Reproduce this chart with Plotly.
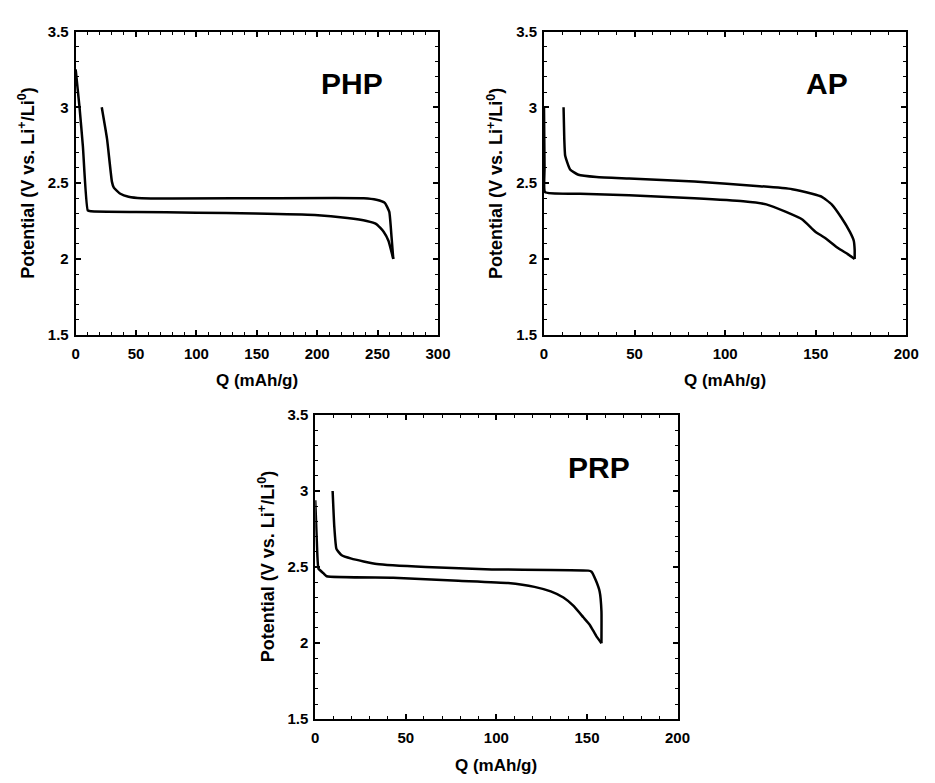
import plotly.graph_objects as go

# ---- data ----
php_dis_q = [0, 3.2, 6, 10, 12.7, 50, 100, 149, 198, 225, 241, 249, 255, 259, 263]
php_dis_v = [3.25, 3.0, 2.74, 2.32, 2.315, 2.31, 2.305, 2.30, 2.29, 2.27, 2.25, 2.23, 2.18, 2.12, 2.0]
php_chg_q = [263, 261.6, 259.7, 256, 249, 238.6, 150, 54.6, 43.8, 37, 31.6, 30, 26, 21.6]
php_chg_v = [2.0, 2.14, 2.31, 2.37, 2.39, 2.40, 2.40, 2.40, 2.41, 2.43, 2.47, 2.51, 2.79, 3.0]

ap_dis_q = [0, 0.3, 0.6, 20, 47, 83, 110, 122.7, 133.6, 142.6, 149.8, 155, 162.5, 167.9, 171.5]
ap_dis_v = [3.0, 2.6, 2.44, 2.43, 2.42, 2.40, 2.38, 2.36, 2.31, 2.26, 2.18, 2.14, 2.07, 2.03, 2.0]
ap_chg_q = [171.5, 171.5, 171, 168.8, 164.3, 158.8, 153.4, 148, 137, 119, 83, 47, 29, 19, 14.4, 11.7, 11.2, 10.8]
ap_chg_v = [2.0, 2.06, 2.12, 2.18, 2.27, 2.36, 2.41, 2.43, 2.46, 2.48, 2.51, 2.53, 2.54, 2.555, 2.59, 2.68, 2.79, 3.0]

prp_dis_q = [0, 0.9, 1.8, 4.5, 6.3, 43, 79, 106.5, 121, 130, 137, 142.6, 148, 151.6, 155, 158]
prp_dis_v = [2.94, 2.66, 2.49, 2.46, 2.44, 2.43, 2.41, 2.395, 2.37, 2.34, 2.30, 2.245, 2.17, 2.12, 2.05, 2.0]
prp_chg_q = [158, 158, 157, 155, 152.5, 150.7, 97.5, 61, 34, 20, 14.4, 11.7, 10.5, 9.6]
prp_chg_v = [2.0, 2.21, 2.34, 2.41, 2.47, 2.477, 2.485, 2.50, 2.52, 2.556, 2.58, 2.62, 2.77, 3.0]

panel_names = ["PHP", "AP", "PRP"]
x_ranges = [[0, 300], [0, 200], [0, 200]]
y_range = [1.5, 3.5]
x_title = "Q (mAh/g)"
y_title = "Potential (V vs. Li<sup>+</sup>/Li<sup>0</sup>)"

W, H = 935, 783
# panel pixel boxes (left, right, top, bottom)
boxes = [(73, 442, 23, 333), (550, 919, 23, 333), (317, 686, 415, 726)]

fig = go.Figure()
series = [
    (php_dis_q, php_dis_v, php_chg_q, php_chg_v),
    (ap_dis_q, ap_dis_v, ap_chg_q, ap_chg_v),
    (prp_dis_q, prp_dis_v, prp_chg_q, prp_chg_v),
]
font_fam = "Liberation Sans, Arial, sans-serif"
line = dict(color="black", width=2.5, shape="spline", smoothing=0.4)

for i, (dq, dv, cq, cv) in enumerate(series):
    sfx = "" if i == 0 else str(i + 1)
    fig.add_trace(go.Scatter(x=dq, y=dv, mode="lines", line=line,
                             xaxis="x" + sfx, yaxis="y" + sfx, showlegend=False))
    fig.add_trace(go.Scatter(x=cq, y=cv, mode="lines", line=line,
                             xaxis="x" + sfx, yaxis="y" + sfx, showlegend=False))

annotations = []
for i, (l, r, t, b) in enumerate(boxes):
    sfx = "" if i == 0 else str(i + 1)
    xd = [l / W, r / W]
    yd = [1 - b / H, 1 - t / H]
    common = dict(showline=True, linecolor="black", linewidth=2, mirror="allticks",
                  ticks="inside", ticklen=5, tickwidth=1.5, tickcolor="black",
                  showgrid=False, zeroline=False,
                  tickfont=dict(family=font_fam, size=15, color="black", weight="bold"))
    fig.update_layout(**{
        "xaxis" + sfx: dict(domain=xd, range=x_ranges[i], dtick=50, tick0=0,
                            anchor="y" + sfx, ticklabelstandoff=4,
                            minor=dict(dtick=10, ticks="inside", ticklen=3,
                                       tickwidth=1.2, tickcolor="black"),
                            **common),
        "yaxis" + sfx: dict(domain=yd, range=y_range, dtick=0.5, tick0=1.5,
                            anchor="x" + sfx, ticklabelstandoff=2,
                            minor=dict(dtick=0.1, ticks="inside", ticklen=3,
                                       tickwidth=1.2, tickcolor="black"),
                            **common),
    })
    cx = (l + r) / 2
    cy = (t + b) / 2
    annotations.append(dict(text=x_title, x=cx / W, y=1 - (b + 47) / H, xref="paper", yref="paper",
                            showarrow=False, xanchor="center", yanchor="middle",
                            font=dict(family=font_fam, size=17, color="black", weight="bold")))
    annotations.append(dict(text=y_title, x=(l - 50) / W, y=1 - cy / H, xref="paper", yref="paper",
                            showarrow=False, textangle=-90, xanchor="center", yanchor="middle",
                            font=dict(family=font_fam, size=18, color="black", weight="bold")))

label_pos = [(354, 76), (838, 76), (606, 469)]
for name, (px, py) in zip(panel_names, label_pos):
    annotations.append(dict(text=name, x=px / W, y=1 - py / H, xref="paper", yref="paper",
                            showarrow=False, xanchor="center", yanchor="middle",
                            font=dict(family=font_fam, size=30, color="black", weight="bold")))

fig.update_layout(width=W, height=H, margin=dict(l=0, r=0, t=0, b=0),
                  paper_bgcolor="white", plot_bgcolor="white",
                  annotations=annotations, showlegend=False)

fig.write_html("out.html", config={"displayModeBar": False},
               post_script="document.body.style.margin='0';")
